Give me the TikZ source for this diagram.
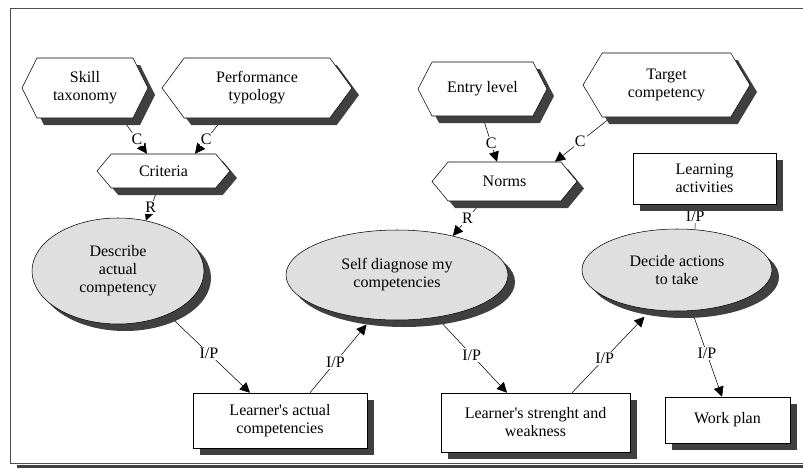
\documentclass[tikz,border=0pt]{standalone}
\usepackage{fontspec}
\setmainfont{Liberation Serif}
\usetikzlibrary{shapes.symbols, shapes.geometric, shadows, arrows.meta, calc, backgrounds}

\begin{document}
\begin{tikzpicture}[
    x=0.75pt, y=-0.75pt,
    every node/.style={font=\fontsize{12}{13.5}\selectfont},
    shade/.style={
      drop shadow={shadow xshift=5.25pt, shadow yshift=-5.25pt,
                   fill=black!75, opacity=1},
    },
    source/.style={
      shape=signal, signal to=west and east, signal pointer angle=110,
      draw=black, fill=white, shade, align=center, inner sep=1pt,
    },
    activity/.style={
      ellipse, draw=black, fill=gray!25, shade, align=center, inner sep=0pt,
    },
    result/.style={
      rectangle, draw=black, fill=white, shade, align=center, inner sep=0pt,
    },
    flow/.style={-{Triangle[length=7.5pt, width=7.5pt]}, black},
    tag/.style={fill=white, inner sep=1pt},
]
\useasboundingbox (0,0) rectangle (803,468);

% frame
\draw[black!70] (803,8) -- (10,8) -- (10,463) -- (803,463);
\fill[black!75] (17,464.5) rectangle (803,467.5);

% controls and references
\node[source, minimum width=94.5pt, minimum height=45pt, signal pointer angle=127]
  (skill) at (85,88) {Skill\\taxonomy};
\node[source, minimum width=142.5pt, minimum height=45pt, signal pointer angle=107]
  (perf) at (257,88) {Performance\\typology};
\node[source, minimum width=99.75pt, minimum height=25.5pt, signal pointer angle=100]
  (crit) at (163.5,171) {Criteria};
\node[source, minimum width=96.75pt, minimum height=40.5pt, signal pointer angle=125]
  (entry) at (482.5,89) {Entry level};
\node[source, minimum width=125.25pt, minimum height=48pt, signal pointer angle=118]
  (target) at (666.5,85) {Target\\competency};
\node[source, minimum width=108.75pt, minimum height=29.25pt, signal pointer angle=101]
  (norms) at (504.5,181.5) {Norms};
\node[result, minimum width=107.25pt, minimum height=38.25pt]
  (learn) at (704.5,178.5) {Learning\\activities};

% activities
\node[activity, minimum width=129pt, minimum height=79.5pt]
  (desc) at (118,271) {Describe\\actual\\competency};
\node[activity, minimum width=166.5pt, minimum height=67.5pt]
  (self) at (397,275) {Self diagnose my\\competencies};
\node[activity, minimum width=142.5pt, minimum height=61.5pt]
  (decide) at (677,270) {Decide actions\\to take};

% outputs
\node[result, minimum width=130.5pt, minimum height=41.25pt]
  (actual) at (280,420.5) {Learner\textquotesingle s actual\\competencies};
\node[result, minimum width=141.75pt, minimum height=44.25pt]
  (strength) at (535.5,422.5) {Learner\textquotesingle s strenght and\\weakness};
\node[result, minimum width=93.75pt, minimum height=34.5pt]
  (work) at (727.5,420) {Work plan};

\begin{scope}[on background layer]
\draw[flow] ($(skill.south)+(37,0)$) -- node[tag, pos=0.6] {C} ($(crit.north)+(-16.5,0)$);
\draw[flow] ($(perf.south)+(-34,0)$) -- node[tag, pos=0.6] {C} ($(crit.north)+(31.5,0)$);
\draw[flow] ($(crit.south)+(-5.5,0)$) -- node[tag, pos=0.6] {R} (desc.61);
\draw[flow] (entry.south) -- node[tag, pos=0.6] {C} ($(norms.north)+(-7.5,0)$);
\draw[flow] ($(target.south)+(-55.5,0)$) -- node[tag, pos=0.55] {C} ($(norms.north)+(50.5,0)$);
\draw[flow] ($(norms.south)+(-22.5,0)$) -- node[tag, pos=0.5] {R} (self.35);
\draw ($(learn.south)+(-9,0)$) -- node[tag] {I/P} ($(decide.north)+(18,0)$);

\draw[flow] (desc.-41) -- node[tag, pos=0.5] {I/P} ($(actual.north)+(-30,0)$);
\draw[flow] ($(actual.north)+(30,0)$) -- node[tag, pos=0.45] {I/P} ($(self.-125)+(0,6)$);
\draw[flow] (self.-47) -- node[tag, pos=0.5] {I/P} ($(strength.north)+(-28.5,0)$);
\draw[flow] ($(strength.north)+(36.5,0)$) -- node[tag, pos=0.45] {I/P} ($(decide.-130)+(0,8)$);
\draw[flow] (decide.-70) -- node[tag, pos=0.5] {I/P} ($(work.north)+(-5.5,0)$);
\end{scope}
\end{tikzpicture}
\end{document}
